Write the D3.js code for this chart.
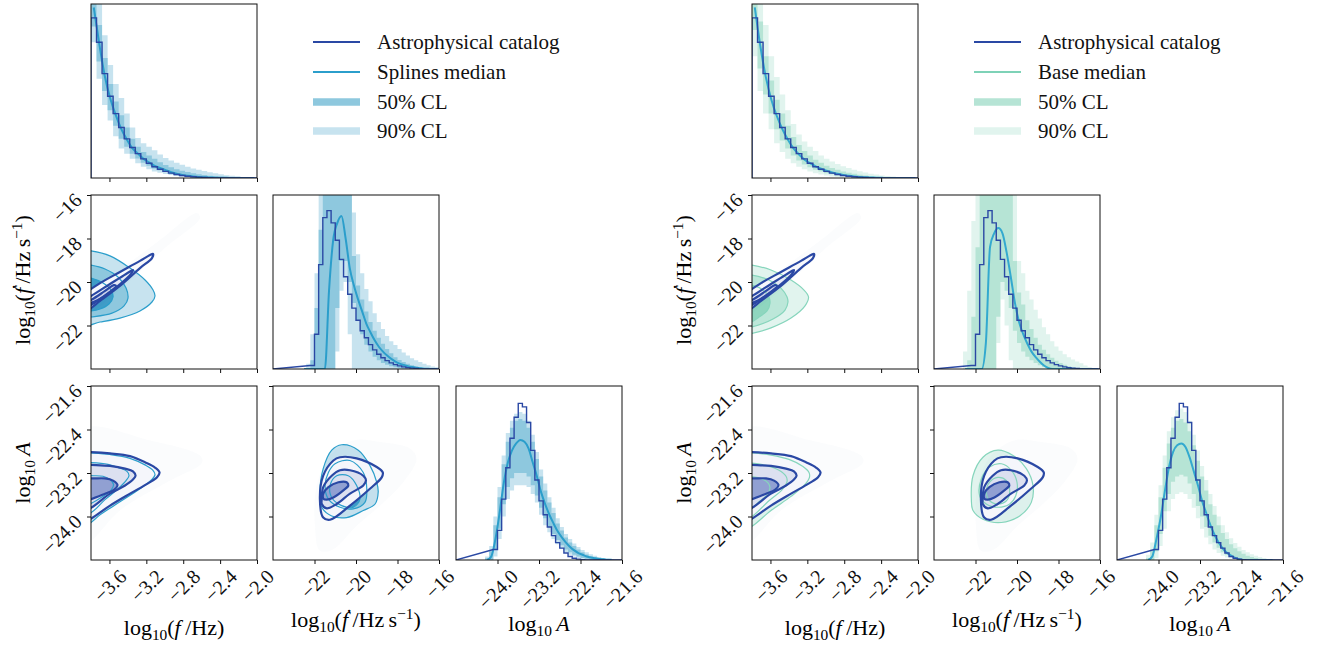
<!DOCTYPE html>
<html><head><meta charset="utf-8">
<script src="https://cdn.jsdelivr.net/npm/d3@7"></script>
<style>body{margin:0;background:#fff}svg{display:block}</style>
</head><body>
<script>
// ---------------- DATA ----------------
const logfRange = [-3.8, -2.0];
const fdotRange = [-24, -16];
const ampRange = [-24.8, -21.6];
const logfTicks = [-3.6, -3.2, -2.8, -2.4, -2.0];
const fdotTicks = [-22, -20, -18, -16];
const ampTicks = [-24.0, -23.2, -22.4, -21.6];
const logfTickLabels = ["−3.6", "−3.2", "−2.8", "−2.4", "−2.0"];
const fdotTickLabels = ["−22", "−20", "−18", "−16"];
const ampTickLabels = ["−24.0", "−23.2", "−22.4", "−21.6"];

const legendLeft = ["Astrophysical catalog", "Splines median", "50% CL", "90% CL"];
const legendRight = ["Astrophysical catalog", "Base median", "50% CL", "90% CL"];

// 1D histograms: log10 f (bins start -3.8, width 0.06)
const logfBinStart = -3.8, logfBinWidth = 0.06;
const catalogLogf = [0.92,0.78,0.6,0.47,0.37,0.29,0.225,0.175,0.14,0.11,0.085,0.065,0.05,0.038,0.028,0.02,0.014,0.01,0.007,0.005,0.003,0.002,0.001,0,0,0,0,0,0,0];
const splinesMedLogf = [0.98,0.77,0.585,0.455,0.36,0.28,0.22,0.17,0.14,0.11,0.09,0.07,0.058,0.045,0.033,0.024,0.018,0.013,0.009,0.006,0.004,0.003,0.002,0.001,0.001,0,0,0,0,0];
const splinesLo50Logf = [0.87,0.67,0.5,0.39,0.3,0.225,0.18,0.14,0.112,0.088,0.07,0.054,0.044,0.034,0.025,0.017,0.012,0.009,0.006,0.004,0.002,0.001,0.001,0,0,0,0,0,0,0];
const splinesHi50Logf = [1.1,0.88,0.69,0.54,0.44,0.36,0.29,0.225,0.18,0.15,0.13,0.11,0.09,0.075,0.062,0.05,0.042,0.034,0.028,0.022,0.017,0.013,0.01,0.007,0.005,0.003,0.002,0.001,0,0];
const splinesLo90Logf = [0.78,0.57,0.42,0.33,0.24,0.17,0.14,0.11,0.085,0.065,0.05,0.038,0.03,0.023,0.017,0.011,0.007,0.005,0.003,0.002,0.001,0,0,0,0,0,0,0,0,0];
const splinesHi90Logf = [1.3,1.0,0.82,0.65,0.54,0.46,0.37,0.29,0.23,0.2,0.18,0.16,0.135,0.115,0.1,0.088,0.076,0.064,0.055,0.047,0.04,0.033,0.027,0.021,0.016,0.013,0.01,0.006,0.003,0.001];
const baseMedLogf = [0.98,0.76,0.58,0.45,0.355,0.28,0.22,0.17,0.135,0.105,0.085,0.067,0.053,0.042,0.032,0.024,0.018,0.013,0.009,0.006,0.004,0.003,0.002,0.001,0,0,0,0,0,0];
const baseLo50Logf = [0.85,0.63,0.48,0.37,0.28,0.215,0.17,0.13,0.1,0.078,0.062,0.048,0.037,0.028,0.021,0.015,0.011,0.007,0.005,0.003,0.002,0.001,0,0,0,0,0,0,0,0];
const baseHi50Logf = [1.15,0.9,0.7,0.56,0.45,0.37,0.3,0.235,0.19,0.155,0.13,0.105,0.087,0.071,0.058,0.047,0.038,0.03,0.024,0.018,0.014,0.01,0.007,0.005,0.003,0.002,0.001,0,0,0];
const baseLo90Logf = [0.7,0.5,0.37,0.28,0.2,0.15,0.11,0.085,0.065,0.05,0.038,0.028,0.02,0.014,0.009,0.006,0.004,0.002,0.001,0,0,0,0,0,0,0,0,0,0,0];
const baseHi90Logf = [1.4,1.1,0.88,0.7,0.58,0.48,0.39,0.31,0.25,0.21,0.18,0.155,0.13,0.11,0.095,0.08,0.068,0.057,0.047,0.039,0.032,0.025,0.02,0.015,0.011,0.008,0.005,0.003,0.001,0];

// 1D histograms: log10 fdot (bins start -22.6, width 0.2)
const fdotBinStart = -22.6, fdotBinWidth = 0.2;
const catalogFdot = [0,0,0.02,0.2,0.6,0.87,0.91,0.84,0.74,0.63,0.53,0.43,0.35,0.28,0.22,0.18,0.14,0.11,0.085,0.065,0.048,0.035,0.025,0.018,0.012,0.008,0.005,0.003,0.001,0,0,0,0];
const splinesMedFdot = [0,0,0,0,0,0,0.45,0.74,0.84,0.88,0.75,0.58,0.48,0.4,0.33,0.26,0.21,0.165,0.128,0.1,0.077,0.058,0.043,0.031,0.023,0.016,0.011,0.007,0.004,0.002,0.001,0,0];
const splinesLo50Fdot = [0,0,0,0,0,0,0,0,0.35,0.62,0.62,0.5,0.38,0.28,0.2,0.14,0.1,0.07,0.05,0.035,0.024,0.016,0.01,0.006,0.003,0.001,0,0,0,0,0,0,0];
const splinesHi50Fdot = [0,0,0.05,0.35,0.8,1.3,1.3,1.3,1.3,1.3,1.3,1.0,0.65,0.48,0.4,0.33,0.27,0.22,0.18,0.145,0.115,0.09,0.068,0.052,0.04,0.03,0.022,0.015,0.01,0.006,0.003,0.001,0];
const splinesLo90Fdot = [0,0,0,0,0,0,0,0,0.1,0.45,0.5,0.2,0,0,0,0,0,0,0,0,0,0,0,0,0,0,0,0,0,0,0,0,0];
const splinesHi90Fdot = [0,0.03,0.2,0.55,1.0,1.3,1.3,1.3,1.3,1.3,1.3,1.3,0.9,0.66,0.55,0.46,0.39,0.32,0.27,0.23,0.19,0.16,0.138,0.115,0.095,0.078,0.062,0.05,0.04,0.03,0.022,0.015,0.01];
const baseMedFdot = [0,0,0,0,0,0.15,0.7,0.78,0.81,0.78,0.67,0.53,0.38,0.27,0.2,0.145,0.1,0.068,0.042,0.02,0.006,0,0,0,0,0,0,0,0,0,0,0,0];
const baseLo50Fdot = [0,0,0,0,0,0,0,0,0.3,0.5,0.45,0.35,0.22,0.15,0.1,0.07,0.05,0.035,0.022,0.012,0.006,0.002,0,0,0,0,0,0,0,0,0,0,0];
const baseHi50Fdot = [0,0.05,0.3,0.7,1.1,1.3,1.3,1.3,1.3,1.3,1.3,1.2,0.62,0.44,0.37,0.28,0.23,0.18,0.14,0.11,0.085,0.065,0.048,0.035,0.024,0.016,0.01,0.006,0.003,0.001,0,0,0];
const baseLo90Fdot = [0,0,0,0,0,0,0,0,0.15,0.4,0.25,0.05,0,0,0,0,0,0,0,0,0,0,0,0,0,0,0,0,0,0,0,0,0];
const baseHi90Fdot = [0.1,0.45,0.85,1.3,1.3,1.3,1.3,1.3,1.3,1.3,1.3,1.3,1.0,0.62,0.55,0.45,0.4,0.34,0.29,0.24,0.2,0.16,0.13,0.105,0.085,0.068,0.055,0.043,0.033,0.02,0.012,0.006,0.002];

// 1D histograms: log10 A (bins start -24.24, width 0.08)
const ampBinStart = -24.24, ampBinWidth = 0.08;
const catalogAmp = [0,0,0.06,0.17,0.35,0.53,0.7,0.82,0.9,0.88,0.79,0.63,0.46,0.34,0.26,0.19,0.14,0.1,0.068,0.04,0.02,0.01,0.005,0.002,0,0,0,0,0,0,0];
const splinesMedAmp = [0,0.02,0.12,0.27,0.44,0.56,0.63,0.67,0.69,0.68,0.64,0.56,0.48,0.39,0.32,0.26,0.21,0.165,0.13,0.1,0.075,0.055,0.04,0.03,0.02,0.014,0.01,0.006,0.004,0.002,0.001];
const splinesLo50Amp = [0,0,0.06,0.18,0.32,0.42,0.47,0.5,0.5,0.5,0.48,0.43,0.37,0.3,0.24,0.19,0.15,0.115,0.085,0.06,0.045,0.03,0.02,0.012,0.007,0.004,0.002,0.001,0,0,0];
const splinesHi50Amp = [0.01,0.05,0.2,0.36,0.55,0.68,0.76,0.8,0.81,0.8,0.76,0.68,0.58,0.48,0.4,0.33,0.27,0.21,0.17,0.13,0.1,0.08,0.06,0.045,0.032,0.022,0.016,0.011,0.007,0.004,0.002];
const splinesLo90Amp = [0,0,0.02,0.12,0.25,0.35,0.4,0.43,0.43,0.43,0.42,0.38,0.33,0.26,0.2,0.16,0.12,0.09,0.065,0.045,0.03,0.02,0.012,0.007,0.004,0.002,0.001,0,0,0,0];
const splinesHi90Amp = [0.02,0.08,0.25,0.42,0.6,0.73,0.8,0.84,0.85,0.84,0.8,0.72,0.62,0.52,0.44,0.36,0.3,0.24,0.19,0.15,0.12,0.095,0.075,0.058,0.044,0.033,0.024,0.017,0.011,0.007,0.003];
const baseMedAmp = [0,0.02,0.12,0.24,0.39,0.53,0.62,0.66,0.67,0.65,0.59,0.51,0.43,0.34,0.27,0.2,0.145,0.1,0.066,0.042,0.025,0.012,0.004,0,0,0,0,0,0,0,0];
const baseLo50Amp = [0,0,0.05,0.15,0.28,0.38,0.45,0.48,0.49,0.48,0.44,0.38,0.31,0.25,0.19,0.14,0.1,0.07,0.045,0.03,0.018,0.01,0.005,0.002,0.001,0,0,0,0,0,0];
const baseHi50Amp = [0.01,0.06,0.2,0.36,0.53,0.67,0.76,0.8,0.81,0.79,0.74,0.66,0.57,0.48,0.4,0.32,0.26,0.2,0.155,0.12,0.09,0.068,0.05,0.036,0.025,0.017,0.011,0.007,0.004,0.002,0.001];
const baseLo90Amp = [0,0,0.01,0.08,0.18,0.28,0.35,0.38,0.39,0.38,0.35,0.3,0.24,0.18,0.13,0.09,0.06,0.04,0.025,0.015,0.008,0.004,0.002,0.001,0,0,0,0,0,0,0];
const baseHi90Amp = [0.03,0.1,0.26,0.43,0.6,0.74,0.82,0.86,0.87,0.85,0.8,0.72,0.63,0.54,0.46,0.38,0.31,0.25,0.2,0.16,0.125,0.098,0.076,0.058,0.044,0.033,0.024,0.017,0.011,0.006,0.003];

// 2D contours [x, y] in data units: (log10 f, log10 fdot)
const catalogLogfFdotOuter = [[-3.92,-20.55],[-3.80,-20.32],[-3.702,-20.05],[-3.486,-19.54],[-3.269,-19.03],[-3.160,-18.76],[-3.128,-18.71],[-3.139,-18.90],[-3.269,-19.36],[-3.486,-20.18],[-3.702,-20.87],[-3.80,-21.20],[-3.92,-21.52]];
const catalogLogfFdotMid = [[-3.92,-20.87],[-3.80,-20.64],[-3.594,-20.09],[-3.420,-19.63],[-3.345,-19.45],[-3.366,-19.63],[-3.507,-20.18],[-3.702,-20.78],[-3.80,-21.06],[-3.92,-21.33]];
const catalogLogfFdotInner = [[-3.92,-21.06],[-3.80,-20.83],[-3.648,-20.41],[-3.551,-20.14],[-3.529,-20.18],[-3.594,-20.46],[-3.702,-20.78],[-3.80,-20.97],[-3.92,-21.20]];
const catalogLogfFdotTail = [[-3.92,-20.83],[-3.486,-19.45],[-3.052,-18.07],[-2.651,-16.83],[-2.618,-17.06],[-2.998,-18.44],[-3.431,-20.14],[-3.92,-21.66]];
const splinesLogfFdotOuter = [[-3.92,-18.53],[-3.80,-18.57],[-3.594,-18.80],[-3.377,-19.36],[-3.214,-19.91],[-3.127,-20.37],[-3.106,-20.64],[-3.139,-20.92],[-3.269,-21.33],[-3.486,-21.66],[-3.702,-21.84],[-3.92,-21.98]];
const splinesLogfFdotMid = [[-3.92,-19.17],[-3.80,-19.22],[-3.648,-19.40],[-3.507,-19.77],[-3.420,-20.28],[-3.399,-20.74],[-3.442,-21.10],[-3.572,-21.43],[-3.80,-21.61],[-3.92,-21.66]];
const splinesLogfFdotInner = [[-3.92,-19.77],[-3.80,-19.82],[-3.67,-20.05],[-3.583,-20.37],[-3.561,-20.69],[-3.605,-21.01],[-3.702,-21.24],[-3.80,-21.33],[-3.92,-21.33]];
const baseLogfFdotOuter = [[-3.92,-19.17],[-3.80,-19.22],[-3.594,-19.45],[-3.377,-19.91],[-3.236,-20.37],[-3.187,-20.69],[-3.225,-21.10],[-3.377,-21.66],[-3.594,-22.11],[-3.80,-22.36],[-3.92,-22.44]];
const baseLogfFdotMid = [[-3.92,-19.66],[-3.80,-19.68],[-3.616,-19.91],[-3.486,-20.28],[-3.420,-20.69],[-3.410,-20.92],[-3.442,-21.29],[-3.572,-21.70],[-3.80,-22.06],[-3.92,-22.12]];
const baseLogfFdotInner = [[-3.92,-20.11],[-3.80,-20.14],[-3.681,-20.37],[-3.616,-20.69],[-3.605,-20.97],[-3.637,-21.33],[-3.724,-21.61],[-3.80,-21.83],[-3.92,-21.89]];

// (log10 f, log10 A)
const catalogLogfAmpOuter = [[-3.92,-22.81],[-3.80,-22.815],[-3.594,-22.84],[-3.377,-22.89],[-3.204,-23.01],[-3.106,-23.10],[-3.057,-23.19],[-3.084,-23.28],[-3.182,-23.39],[-3.377,-23.58],[-3.594,-23.80],[-3.80,-24.04],[-3.92,-24.15]];
const catalogLogfAmpMid = [[-3.92,-23.04],[-3.80,-23.05],[-3.594,-23.07],[-3.431,-23.12],[-3.345,-23.17],[-3.317,-23.25],[-3.345,-23.32],[-3.431,-23.43],[-3.594,-23.58],[-3.80,-23.84],[-3.92,-23.93]];
const catalogLogfAmpInner = [[-3.92,-23.28],[-3.80,-23.30],[-3.648,-23.30],[-3.561,-23.34],[-3.513,-23.42],[-3.551,-23.51],[-3.648,-23.58],[-3.80,-23.68],[-3.92,-23.73]];
const catalogLogfAmpTail = [[-3.92,-22.41],[-3.160,-22.60],[-2.618,-22.88],[-2.596,-23.01],[-2.943,-23.34],[-3.486,-23.89],[-3.80,-24.45],[-3.92,-24.54]];
const splinesLogfAmpOuter = [[-3.92,-22.82],[-3.80,-22.83],[-3.594,-22.86],[-3.377,-22.93],[-3.204,-23.06],[-3.128,-23.15],[-3.106,-23.23],[-3.139,-23.32],[-3.269,-23.49],[-3.486,-23.73],[-3.702,-23.97],[-3.80,-24.11],[-3.92,-24.21]];
const splinesLogfAmpMid = [[-3.92,-23.01],[-3.80,-23.01],[-3.616,-23.04],[-3.486,-23.11],[-3.410,-23.17],[-3.388,-23.25],[-3.420,-23.34],[-3.507,-23.49],[-3.648,-23.69],[-3.80,-23.93],[-3.92,-23.99]];
const splinesLogfAmpInner = [[-3.92,-23.24],[-3.80,-23.25],[-3.67,-23.26],[-3.594,-23.32],[-3.556,-23.41],[-3.583,-23.52],[-3.67,-23.63],[-3.80,-23.76],[-3.92,-23.82]];
const baseLogfAmpOuter = [[-3.92,-22.82],[-3.80,-22.83],[-3.594,-22.87],[-3.399,-22.95],[-3.247,-23.08],[-3.182,-23.19],[-3.177,-23.28],[-3.225,-23.41],[-3.377,-23.63],[-3.594,-23.89],[-3.80,-24.18],[-3.92,-24.28]];
const baseLogfAmpMid = [[-3.92,-23.01],[-3.80,-23.02],[-3.648,-23.06],[-3.507,-23.15],[-3.431,-23.26],[-3.420,-23.36],[-3.475,-23.51],[-3.616,-23.71],[-3.80,-24.00],[-3.92,-24.10]];
const baseLogfAmpInner = [[-3.92,-23.26],[-3.80,-23.27],[-3.702,-23.30],[-3.626,-23.38],[-3.605,-23.47],[-3.637,-23.60],[-3.724,-23.73],[-3.80,-23.84],[-3.92,-23.91]];

// (log10 fdot, log10 A)
const catalogFdotAmpOuter = [[-21.74,-23.68],[-21.58,-23.25],[-21.09,-22.97],[-20.77,-22.91],[-19.97,-22.93],[-19.0,-23.09],[-18.71,-23.19],[-18.76,-23.28],[-19.33,-23.49],[-20.29,-23.80],[-21.25,-24.06],[-21.58,-24.02]];
const catalogFdotAmpMid = [[-21.65,-23.68],[-21.58,-23.46],[-21.17,-23.25],[-20.77,-23.15],[-20.29,-23.15],[-19.65,-23.25],[-19.52,-23.34],[-19.65,-23.43],[-20.29,-23.58],[-20.93,-23.77],[-21.41,-23.85],[-21.65,-23.77]];
const catalogFdotAmpInner = [[-21.58,-23.58],[-21.33,-23.46],[-20.85,-23.37],[-20.45,-23.37],[-20.37,-23.43],[-20.61,-23.52],[-21.09,-23.65],[-21.41,-23.69],[-21.58,-23.67]];
const catalogFdotAmpTail = [[-21.89,-23.43],[-21.25,-22.88],[-20.13,-22.60],[-18.84,-22.63],[-17.40,-22.75],[-17.08,-22.94],[-17.72,-23.37],[-18.84,-23.80],[-19.97,-24.17],[-21.09,-24.60],[-21.74,-24.63],[-21.98,-24.17]];
const splinesFdotAmpOuter = [[-20.69,-22.68],[-19.89,-22.78],[-19.33,-23.06],[-19.0,-23.37],[-18.93,-23.55],[-19.08,-23.77],[-19.65,-23.89],[-20.45,-24.02],[-21.17,-23.99],[-21.65,-23.83],[-21.74,-23.55],[-21.58,-23.12],[-21.17,-22.78]];
const splinesFdotAmpMid = [[-21.01,-23.03],[-20.29,-22.97],[-19.65,-23.19],[-19.48,-23.49],[-19.57,-23.74],[-20.13,-23.86],[-20.77,-23.83],[-21.33,-23.68],[-21.49,-23.43],[-21.33,-23.19]];
const splinesFdotAmpInner = [[-20.93,-23.25],[-20.37,-23.25],[-19.97,-23.43],[-19.81,-23.68],[-20.13,-23.83],[-20.69,-23.80],[-21.17,-23.65],[-21.25,-23.43]];
const baseFdotAmpOuter = [[-22.20,-23.68],[-22.12,-23.25],[-21.64,-22.91],[-20.92,-22.78],[-20.19,-22.88],[-19.55,-23.12],[-19.23,-23.43],[-19.31,-23.74],[-19.87,-23.99],[-20.75,-24.11],[-21.64,-24.05],[-22.12,-23.89]];
const baseFdotAmpMid = [[-21.80,-23.62],[-21.72,-23.31],[-21.32,-23.09],[-20.75,-23.03],[-20.27,-23.15],[-20.0,-23.37],[-20.06,-23.62],[-20.35,-23.77],[-20.92,-23.83],[-21.48,-23.77]];
const baseFdotAmpInner = [[-21.48,-23.55],[-21.32,-23.37],[-20.92,-23.28],[-20.51,-23.34],[-20.35,-23.52],[-20.51,-23.71],[-20.92,-23.77],[-21.32,-23.71]];

// ---------------- LAYOUT & STYLE ----------------
const FONT = '"Liberation Serif","DejaVu Serif",serif';
const colLeft = [91, 273, 456], rowTop = [4, 195, 386], PW = 166, PH = 174;
const plotShift = [0, 661];
const catColor = '#2a48a4';
const styles = [
  { median: '#2b9ecb', legendMedian: '#2b9ecb', band50: '#8ec8de', band90: '#c7e3ef',
    cline: '#2b9ecb', fills: ['#c7e3ef', '#8ec8de', '#3f9cc7'] },
  { median: '#33a9cf', legendMedian: '#7ed2b7', band50: '#b6e4d5', band90: '#e1f4ee',
    cline: '#86d5bc', fills: ['#e1f4ee', '#bce7d9', '#8fd6bf'] }
];

const axes = {
  logf: { dom: logfRange, ticks: logfTicks, labels: logfTickLabels },
  fdot: { dom: fdotRange, ticks: fdotTicks, labels: fdotTickLabels },
  amp: { dom: ampRange, ticks: ampTicks, labels: ampTickLabels }
};
const hists = {
  logf: { start: logfBinStart, w: logfBinWidth, cat: catalogLogf,
    model: [[splinesMedLogf, splinesLo50Logf, splinesHi50Logf, splinesLo90Logf, splinesHi90Logf],
            [baseMedLogf, baseLo50Logf, baseHi50Logf, baseLo90Logf, baseHi90Logf]] },
  fdot: { start: fdotBinStart, w: fdotBinWidth, cat: catalogFdot,
    model: [[splinesMedFdot, splinesLo50Fdot, splinesHi50Fdot, splinesLo90Fdot, splinesHi90Fdot],
            [baseMedFdot, baseLo50Fdot, baseHi50Fdot, baseLo90Fdot, baseHi90Fdot]] },
  amp: { start: ampBinStart, w: ampBinWidth, cat: catalogAmp,
    model: [[splinesMedAmp, splinesLo50Amp, splinesHi50Amp, splinesLo90Amp, splinesHi90Amp],
            [baseMedAmp, baseLo50Amp, baseHi50Amp, baseLo90Amp, baseHi90Amp]] }
};
const pairs = {
  'logf-fdot': { cat: [catalogLogfFdotOuter, catalogLogfFdotMid, catalogLogfFdotInner], tail: catalogLogfFdotTail,
    model: [[splinesLogfFdotOuter, splinesLogfFdotMid, splinesLogfFdotInner], [baseLogfFdotOuter, baseLogfFdotMid, baseLogfFdotInner]],
    dens: [0.04, 0.08, 0.16] },
  'logf-amp': { cat: [catalogLogfAmpOuter, catalogLogfAmpMid, catalogLogfAmpInner], tail: catalogLogfAmpTail,
    model: [[splinesLogfAmpOuter, splinesLogfAmpMid, splinesLogfAmpInner], [baseLogfAmpOuter, baseLogfAmpMid, baseLogfAmpInner]],
    dens: [0.05, 0.13, 0.45] },
  'fdot-amp': { cat: [catalogFdotAmpOuter, catalogFdotAmpMid, catalogFdotAmpInner], tail: catalogFdotAmpTail,
    model: [[splinesFdotAmpOuter, splinesFdotAmpMid, splinesFdotAmpInner], [baseFdotAmpOuter, baseFdotAmpMid, baseFdotAmpInner]],
    dens: [0.05, 0.13, 0.45] }
};

// ---------------- DRAW ----------------
const svg = d3.select('body').append('svg').attr('width', 1328).attr('height', 645).style('font-family', FONT);
svg.append('rect').attr('width', 1328).attr('height', 645).attr('fill', '#fff');
let clipN = 0;

function panel(p, col, row) {
  const g = svg.append('g').attr('transform', `translate(${colLeft[col] + plotShift[p]},${rowTop[row]})`);
  const id = 'clip' + (clipN++);
  g.append('clipPath').attr('id', id).append('rect').attr('width', PW).attr('height', PH);
  const inner = g.append('g').attr('clip-path', `url(#${id})`);
  return { g, inner };
}

function bottomAxis(g, x, key, withLabels) {
  const a = axes[key];
  const ax = g.append('g').attr('transform', `translate(0,${PH})`)
    .call(d3.axisBottom(x).tickValues(a.ticks).tickSize(4).tickPadding(0)
      .tickFormat((d, i) => withLabels ? a.labels[i] : ''));
  ax.select('.domain').remove();
  ax.attr('color', '#111').attr('font-size', 20).attr('font-family', FONT);
  ax.selectAll('line').attr('stroke-width', 1);
  if (withLabels) ax.selectAll('text').each(function () {
    const L = this.getComputedTextLength();
    const off = 8 + (L + 14) * 0.354;
    d3.select(this).attr('y', 0).attr('dy', null).attr('text-anchor', 'middle')
      .attr('dominant-baseline', 'central').attr('transform', `translate(0,${off}) rotate(-45)`);
  });
}
function leftAxis(g, y, key, withLabels) {
  const a = axes[key];
  const ax = g.append('g')
    .call(d3.axisLeft(y).tickValues(a.ticks).tickSize(4).tickPadding(0)
      .tickFormat((d, i) => withLabels ? a.labels[i] : ''));
  ax.select('.domain').remove();
  ax.attr('color', '#111').attr('font-size', 20).attr('font-family', FONT);
  if (withLabels) ax.selectAll('text').each(function () {
    d3.select(this).attr('x', 0).attr('dy', null).attr('text-anchor', 'end')
      .attr('dominant-baseline', 'central').attr('transform', `translate(-13,1) rotate(-45)`);
  });
}
function frame(g) {
  g.append('rect').attr('width', PW).attr('height', PH).attr('fill', 'none')
    .attr('stroke', '#111').attr('stroke-width', 1);
}

function drawHist(p, col, row, key, labelsBottom) {
  const { g, inner } = panel(p, col, row);
  const hs = hists[key], st = styles[p];
  const [med, lo50, hi50, lo90, hi90] = hs.model[p];
  const x = d3.scaleLinear(axes[key].dom, [0, PW]);
  const y = d3.scaleLinear([0, 1], [PH, 0]);
  const band = (lo, hi) => {
    const pts = [];
    lo.forEach((v, i) => { const a = hs.start + i * hs.w; pts.push([a, v, hi[i]], [a + hs.w, v, hi[i]]); });
    return pts;
  };
  const area = d3.area().x(d => x(d[0])).y0(d => y(d[1])).y1(d => y(d[2]));
  inner.append('path').attr('d', area(band(lo90, hi90))).attr('fill', st.band90);
  inner.append('path').attr('d', area(band(lo50, hi50))).attr('fill', st.band50);
  const medPts = med.map((v, i) => [hs.start + (i + 0.5) * hs.w, v]);
  inner.append('path').attr('d', d3.line().x(d => x(d[0])).y(d => y(d[1])).curve(d3.curveMonotoneX)(medPts))
    .attr('fill', 'none').attr('stroke', st.median).attr('stroke-width', 2);
  const v = hs.cat;
  const first = v.findIndex(d => d > 0);
  let last = v.length - 1; while (v[last] <= 0) last--;
  const sp = [[axes[key].dom[0], 0]];
  for (let i = first; i <= last; i++) sp.push([hs.start + i * hs.w, v[i]], [hs.start + (i + 1) * hs.w, v[i]]);
  sp.push([hs.start + (last + 1) * hs.w, 0], [axes[key].dom[1], 0]);
  inner.append('path').attr('d', d3.line().x(d => x(d[0])).y(d => y(d[1]))(sp))
    .attr('fill', 'none').attr('stroke', catColor).attr('stroke-width', 1.4);
  frame(g);
  bottomAxis(g, x, key, labelsBottom);
}

function draw2D(p, col, row, xk, yk, labelsBottom, labelsLeft) {
  const { g, inner } = panel(p, col, row);
  const pr = pairs[xk + '-' + yk], st = styles[p];
  const x = d3.scaleLinear(axes[xk].dom, [0, PW]);
  const y = d3.scaleLinear(axes[yk].dom, [PH, 0]);
  const shape = d3.line().x(d => x(d[0])).y(d => y(d[1])).curve(d3.curveCatmullRomClosed.alpha(0.5));
  pr.model[p].forEach((poly, i) => inner.append('path').attr('d', shape(poly)).attr('fill', st.fills[i]));
  inner.append('path').attr('d', shape(pr.tail)).attr('fill', '#3651ad').attr('fill-opacity', 0.018);
  inner.append('path').attr('d', shape(pr.cat[0])).attr('fill', '#fff');
  pr.cat.forEach((poly, i) => inner.append('path').attr('d', shape(poly)).attr('fill', '#3651ad').attr('fill-opacity', pr.dens[i]));
  pr.model[p].forEach(poly => inner.append('path').attr('d', shape(poly)).attr('fill', 'none')
    .attr('stroke', st.cline).attr('stroke-width', 1.2));
  pr.cat.forEach(poly => inner.append('path').attr('d', shape(poly)).attr('fill', 'none')
    .attr('stroke', catColor).attr('stroke-width', 2.2));
  frame(g);
  bottomAxis(g, x, xk, labelsBottom);
  leftAxis(g, y, yk, labelsLeft);
}

function mathText(t, parts) {
  parts.forEach(([s, k]) => {
    const ts = t.append('tspan').text(s);
    if (k === 'i') ts.attr('font-style', 'italic');
    if (k === 'sub') ts.attr('font-size', '70%').attr('baseline-shift', '-5');
    if (k === 'sup') ts.attr('font-size', '70%').attr('baseline-shift', '8');
  });
}
const labelLogf = [["log", ""], ["10", "sub"], ["(", ""], ["f", "i"], ["\u2009/Hz)", ""]];
const labelFdot = [["log", ""], ["10", "sub"], ["(", ""], ["ḟ", "i"], ["\u2009/Hz\u2009s", ""], ["−1", "sup"], [")", ""]];
const labelAmp = [["log", ""], ["10", "sub"], ["\u2009", ""], ["A", "i"]];

[0, 1].forEach(p => {
  drawHist(p, 0, 0, 'logf', false);
  draw2D(p, 0, 1, 'logf', 'fdot', false, true);
  drawHist(p, 1, 1, 'fdot', false);
  draw2D(p, 0, 2, 'logf', 'amp', true, true);
  draw2D(p, 1, 2, 'fdot', 'amp', true, false);
  drawHist(p, 2, 2, 'amp', true);

  const sx = plotShift[p];
  const xl = [[labelLogf, 174, 635], [labelFdot, 356, 627], [labelAmp, 539, 631]];
  xl.forEach(([parts, cx, by]) => {
    const t = svg.append('text').attr('x', cx + sx).attr('y', by).attr('text-anchor', 'middle').attr('font-size', 22);
    mathText(t, parts);
  });
  const yl = [[labelFdot, 280], [labelAmp, 473]];
  yl.forEach(([parts, cy]) => {
    const t = svg.append('text').attr('transform', `translate(${30 + sx},${cy}) rotate(-90)`)
      .attr('text-anchor', 'middle').attr('font-size', 22);
    mathText(t, parts);
  });

  const st = styles[p];
  const names = p === 0 ? legendLeft : legendRight;
  const ly = [42, 72, 102, 131];
  const lx0 = 313 + sx, lx1 = 360 + sx;
  const handles = [
    { c: catColor, w: 2.2 }, { c: st.legendMedian, w: 2.2 }, { c: st.band50, w: 7.5 }, { c: st.band90, w: 7.5 }
  ];
  names.forEach((n, i) => {
    svg.append('line').attr('x1', lx0).attr('x2', lx1).attr('y1', ly[i]).attr('y2', ly[i])
      .attr('stroke', handles[i].c).attr('stroke-width', handles[i].w);
    svg.append('text').attr('x', 377 + sx).attr('y', ly[i]).attr('dominant-baseline', 'central')
      .attr('font-size', 21).attr('fill', '#111').text(n);
  });
});
</script>
</body></html>
